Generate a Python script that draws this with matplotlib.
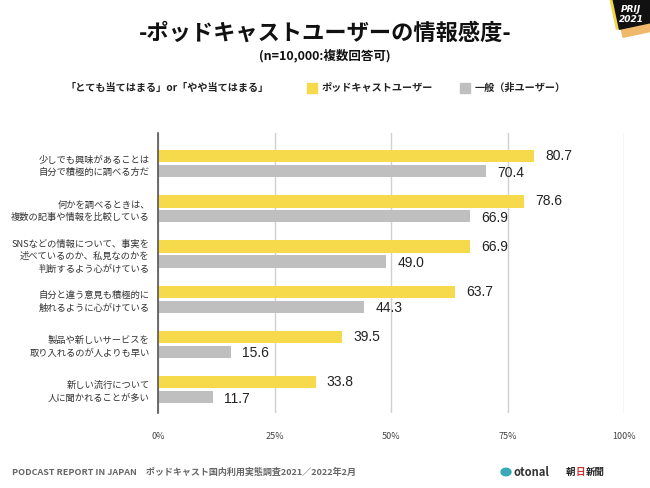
import matplotlib.pyplot as plt
import numpy as np
from matplotlib.patches import Rectangle, Circle

plt.rcParams['font.family'] = ['Noto Sans CJK JP', 'DejaVu Sans']

categories = [
    "少しでも興味があることは\n自分で積極的に調べる方だ",
    "何かを調べるときは、\n複数の記事や情報を比較している",
    "SNSなどの情報について、事実を\n述べているのか、私見なのかを\n判断するよう心がけている",
    "自分と違う意見も積極的に\n触れるように心がけている",
    "製品や新しいサービスを\n取り入れるのが人よりも早い",
    "新しい流行について\n人に聞かれることが多い",
]
podcast_users = [80.7, 78.6, 66.9, 63.7, 39.5, 33.8]
general = [70.4, 66.9, 49.0, 44.3, 15.6, 11.7]
x_ticks = [0, 25, 50, 75, 100]
x_tick_labels = ["0%", "25%", "50%", "75%", "100%"]

yellow = "#F7D94C"
gray = "#BFBFBF"

fig = plt.figure(figsize=(6.5, 4.88), dpi=100)
ax = fig.add_axes([158 / 650, 1 - 413 / 488, 466 / 650, 280 / 488])

y = np.arange(len(categories))
h = 0.27
ax.barh(y - 0.165, podcast_users, height=h, color=yellow, zorder=3)
ax.barh(y + 0.165, general, height=h, color=gray, zorder=3)

for i in range(len(categories)):
    ax.text(podcast_users[i] + 2.4, y[i] - 0.165, f"{podcast_users[i]:.1f}",
            va="center", ha="left", fontsize=10, color="#222222", family="Liberation Sans")
    ax.text(general[i] + 2.4, y[i] + 0.2, f"{general[i]:.1f}",
            va="center", ha="left", fontsize=10, color="#222222", family="Liberation Sans")

ax.set_xlim(0, 100)
ax.set_ylim(5.52, -0.68)
ax.set_xticks(x_ticks)
ax.set_xticklabels(x_tick_labels, fontsize=6.5, color="#444444")
ax.set_yticks(y)
ax.set_yticklabels(categories, fontsize=6.7, color="#333333", linespacing=1.45)
ax.tick_params(length=0, pad=6)
ax.tick_params(axis="x", pad=14)
ax.grid(axis="x", color="#D0D0D0", linewidth=1, zorder=0)
for s in ["top", "right", "bottom"]:
    ax.spines[s].set_visible(False)
ax.spines["left"].set_color("#555555")
ax.spines["left"].set_linewidth(1.2)
ax.spines["left"].set_zorder(4)

# titles
fig.text(0.5, 1 - 33 / 488, "-ポッドキャストユーザーの情報感度-", ha="center", va="center",
         fontsize=16, fontweight="bold", color="#111111")
fig.text(0.5, 1 - 55 / 488, "(n=10,000:複数回答可)", ha="center", va="center",
         fontsize=9, fontweight="bold", color="#111111")

# legend row
ly = 1 - 88 / 488
fig.text(65 / 650, ly, "「とても当てはまる」or「やや当てはまる」", ha="left", va="center",
         fontsize=7.3, fontweight="bold", color="#222222")
fig.patches.append(Rectangle((307 / 650, ly - 5 / 488), 10 / 650, 10 / 488,
                             transform=fig.transFigure, color=yellow))
fig.text(322 / 650, ly, "ポッドキャストユーザー", ha="left", va="center",
         fontsize=7.3, fontweight="bold", color="#222222")
fig.patches.append(Rectangle((460 / 650, ly - 5 / 488), 10 / 650, 10 / 488,
                             transform=fig.transFigure, color=gray))
fig.text(475 / 650, ly, "一般（非ユーザー）", ha="left", va="center",
         fontsize=7.3, fontweight="bold", color="#222222")

# footer
fy = 1 - 472 / 488
fig.text(12 / 650, fy, "PODCAST REPORT IN JAPAN　ポッドキャスト国内利用実態調査2021／2022年2月",
         ha="left", va="center", fontsize=6.5, color="#666666", fontweight="bold")
fig.patches.append(Circle((506 / 650, fy), 5 / 650, transform=fig.transFigure,
                          color="#3AA8B8"))
fig.text(513 / 650, fy, "otonal", ha="left", va="center", fontsize=8,
         fontweight="bold", color="#333333")
fig.text(566 / 650, fy, "朝", ha="left", va="center", fontsize=6.8, fontweight="bold", color="#222222")
fig.text(576 / 650, fy, "日", ha="left", va="center", fontsize=6.8, fontweight="bold", color="#D03030")
fig.text(586 / 650, fy, "新聞", ha="left", va="center", fontsize=6.8, fontweight="bold", color="#222222")

# corner badge
badge = fig.add_axes([600 / 650, 1 - 45 / 488, 50 / 650, 45 / 488])
badge.set_xlim(0, 50)
badge.set_ylim(45, 0)
badge.axis("off")
badge.add_patch(Rectangle((16, 4), 34, 34, angle=-12, color="#F0B86A"))
badge.add_patch(Rectangle((9, -6), 30, 36, angle=-12, color="#F2D645"))
badge.add_patch(Rectangle((12, -6), 40, 36, angle=-12, color="#111111"))
badge.text(31, 10, "PRIJ", ha="center", va="center", fontsize=6.5, color="white",
           fontweight="bold", style="italic", family="DejaVu Sans")
badge.text(31, 20, "2021", ha="center", va="center", fontsize=6.5, color="white",
           fontweight="bold", style="italic", family="DejaVu Sans")

fig.savefig("out.png", dpi=100)
